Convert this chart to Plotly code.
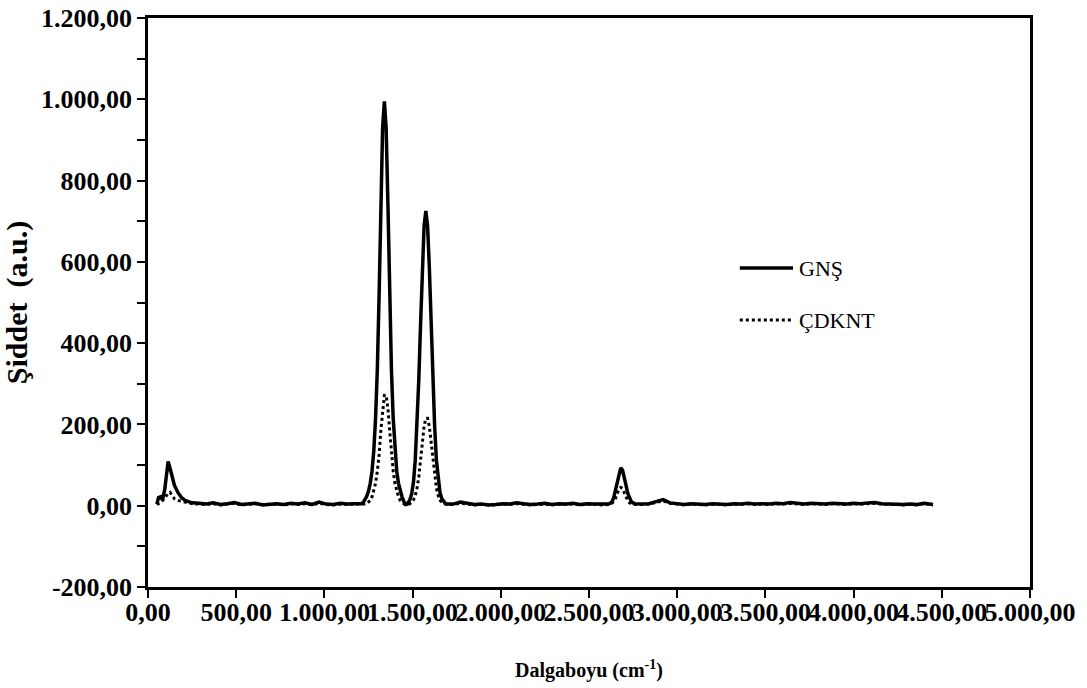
import plotly.graph_objects as go

# ---- wavenumber samples (cm-1), by region ----
x_a = [50, 60, 72, 82, 95, 105, 114, 125, 135, 150, 170, 190, 210, 230, 250]
x_b = [290, 330, 370, 410, 450, 490, 530, 570, 610, 650, 690, 730, 770, 810,
       850, 890, 930, 970, 1010, 1050, 1090, 1130, 1170]
x_c1 = [1210, 1220, 1230, 1240, 1250, 1260, 1270, 1280, 1290, 1300, 1310, 1320,
        1330, 1340, 1350, 1360, 1370, 1380, 1390, 1400, 1410, 1420, 1430, 1440,
        1450, 1460, 1470]
x_c2 = [1475, 1485, 1495, 1505, 1515, 1525, 1535, 1545, 1555, 1565, 1575, 1585,
        1595, 1605, 1615, 1625, 1635, 1645, 1655, 1665, 1675, 1685, 1695]
x_d = [1730, 1770, 1810, 1850, 1890, 1930, 1970, 2010, 2050, 2090, 2130, 2170,
       2210, 2250, 2290, 2330, 2370, 2410, 2450, 2490, 2530, 2570]
x_e = [2610, 2620, 2630, 2640, 2650, 2660, 2670, 2680, 2690, 2700, 2710, 2720,
       2730, 2740, 2750, 2760]
x_f = [2800, 2840, 2880, 2920, 2960, 3000, 3040, 3080, 3120, 3160, 3200, 3240,
       3280, 3320, 3360, 3400, 3440, 3480, 3520, 3560, 3600, 3640, 3680, 3720,
       3760, 3800, 3840, 3880, 3920, 3960, 4000, 4040, 4080, 4120, 4160, 4200,
       4240, 4280, 4320, 4360, 4400, 4430, 4450]

# ---- GNŞ intensities ----
gns_a = [4, 20, 22, 14, 40, 80, 109, 92, 75, 50, 32, 20, 13, 9, 7]
gns_b = [6, 4, 7, 3, 5, 8, 3, 4, 6, 2, 4, 5, 3, 6, 4, 7, 3, 9, 4, 3, 6, 4, 5]
gns_c1 = [5, 8, 14, 23, 36, 55, 85, 135, 215, 335, 515, 745, 930, 995, 930, 745,
          515, 335, 215, 135, 85, 55, 36, 22, 11, 3, 4]
gns_c2 = [7, 15, 30, 58, 112, 195, 308, 445, 585, 688, 725, 688, 585, 445, 308,
          195, 112, 60, 33, 18, 10, 6, 4]
gns_d = [4, 9, 5, 3, 4, 2, 3, 5, 4, 7, 5, 3, 4, 6, 3, 5, 4, 6, 3, 5, 4, 3]
gns_e = [4, 6, 9, 20, 40, 62, 82, 93, 88, 72, 50, 30, 17, 10, 7, 5]
gns_f = [4, 5, 10, 15, 7, 5, 3, 5, 4, 3, 5, 4, 3, 5, 4, 6, 4, 5, 4, 6, 5, 8, 5,
         4, 6, 5, 4, 6, 5, 4, 6, 5, 7, 8, 5, 4, 5, 3, 4, 3, 6, 5, 3]

# ---- ÇDKNT intensities ----
cdknt_a = [3, 5, 8, 12, 20, 27, 30, 33, 27, 17, 13, 11, 9, 7, 5]
cdknt_b = [4, 3, 5, 2, 4, 6, 2, 3, 5, 3, 3, 4, 2, 5, 3, 5, 2, 6, 3, 2, 4, 3, 4]
cdknt_c1 = [3, 3, 4, 5, 8, 13, 22, 36, 55, 85, 125, 185, 240, 272, 272, 240, 185,
            125, 85, 55, 36, 22, 13, 8, 5, 3, 3]
cdknt_c2 = [3, 5, 8, 14, 25, 43, 70, 112, 157, 195, 215, 215, 195, 157, 112, 70,
            43, 25, 14, 8, 5, 4, 3]
cdknt_d = [3, 6, 4, 2, 3, 2, 2, 4, 3, 5, 4, 2, 3, 4, 2, 4, 3, 4, 2, 4, 3, 2]
cdknt_e = [3, 4, 6, 10, 18, 30, 41, 45, 42, 32, 20, 12, 7, 5, 4, 3]
cdknt_f = [3, 4, 8, 12, 6, 4, 2, 4, 3, 2, 4, 3, 2, 4, 3, 5, 3, 4, 3, 5, 4, 6, 4,
           3, 5, 4, 3, 5, 4, 3, 5, 4, 5, 6, 4, 3, 4, 2, 3, 2, 5, 4, 2]

series_names = ["GNŞ", "ÇDKNT"]
x_title = "Dalgaboyu (cm<sup>-1</sup>)"
y_title = "Şiddet  (a.u.)"
y_tickvals = [-200, 0, 200, 400, 600, 800, 1000, 1200]
y_ticktext = ["-200,00", "0,00", "200,00", "400,00", "600,00", "800,00",
              "1.000,00", "1.200,00"]

wavenumber = x_a + x_b + x_c1 + x_c2 + x_d + x_e + x_f
gns = gns_a + gns_b + gns_c1 + gns_c2 + gns_d + gns_e + gns_f
cdknt = cdknt_a + cdknt_b + cdknt_c1 + cdknt_c2 + cdknt_d + cdknt_e + cdknt_f
assert len(wavenumber) == len(gns) == len(cdknt)

FONT = "Liberation Serif"
styles = [dict(color="black", width=3.5), dict(color="black", width=3, dash="dot")]

fig = go.Figure()
fig.add_trace(go.Scatter(x=wavenumber, y=gns, mode="lines", name=series_names[0],
                         line=styles[0], showlegend=False))
fig.add_trace(go.Scatter(x=wavenumber, y=cdknt, mode="lines", name=series_names[1],
                         line=styles[1], showlegend=False))

# legend drawn as line samples + text (paper coordinates)
legend_y = [0.5606, 0.4692]
for name, st, ly in zip(series_names, styles, legend_y):
    fig.add_shape(type="line", xref="paper", yref="paper",
                  x0=0.671, x1=0.7313, y0=ly, y1=ly, line=st)
    fig.add_annotation(xref="paper", yref="paper", x=0.7358, y=ly,
                       xanchor="left", yanchor="middle", showarrow=False,
                       text=name, font=dict(family=FONT, size=22, color="black"))

fig.update_layout(
    width=1087, height=688,
    margin=dict(l=148, r=57, t=18, b=101),
    paper_bgcolor="white", plot_bgcolor="white",
    separators=",.",
    font=dict(family=FONT, color="black"),
    showlegend=False,
)
fig.update_xaxes(
    range=[0, 5000], dtick=500, tick0=0, tickformat=",.2f", tickangle=0,
    automargin=False, ticklabelstandoff=-8,
    showgrid=False, zeroline=False,
    showline=True, linecolor="black", linewidth=2.5, mirror=True,
    ticks="outside", ticklen=8, tickwidth=2, tickcolor="black",
    tickfont=dict(family=FONT, size=26, color="black", weight="bold"),
    title=dict(text=x_title, standoff=38,
               font=dict(family=FONT, size=20, color="black", weight="bold")),
)
fig.update_yaxes(
    range=[-200, 1200], tickvals=y_tickvals, ticktext=y_ticktext,
    automargin=False,
    showgrid=False, zeroline=False,
    showline=True, linecolor="black", linewidth=2.5, mirror=True,
    ticks="outside", ticklen=8, tickwidth=2, tickcolor="black",
    minor=dict(dtick=100, ticks="outside", ticklen=8, tickwidth=2,
               tickcolor="black", showgrid=False),
    tickfont=dict(family=FONT, size=26, color="black", weight="bold"),
    title=dict(text=y_title, standoff=6,
               font=dict(family=FONT, size=30, color="black", weight="bold")),
)

fig.write_html("out.html")
